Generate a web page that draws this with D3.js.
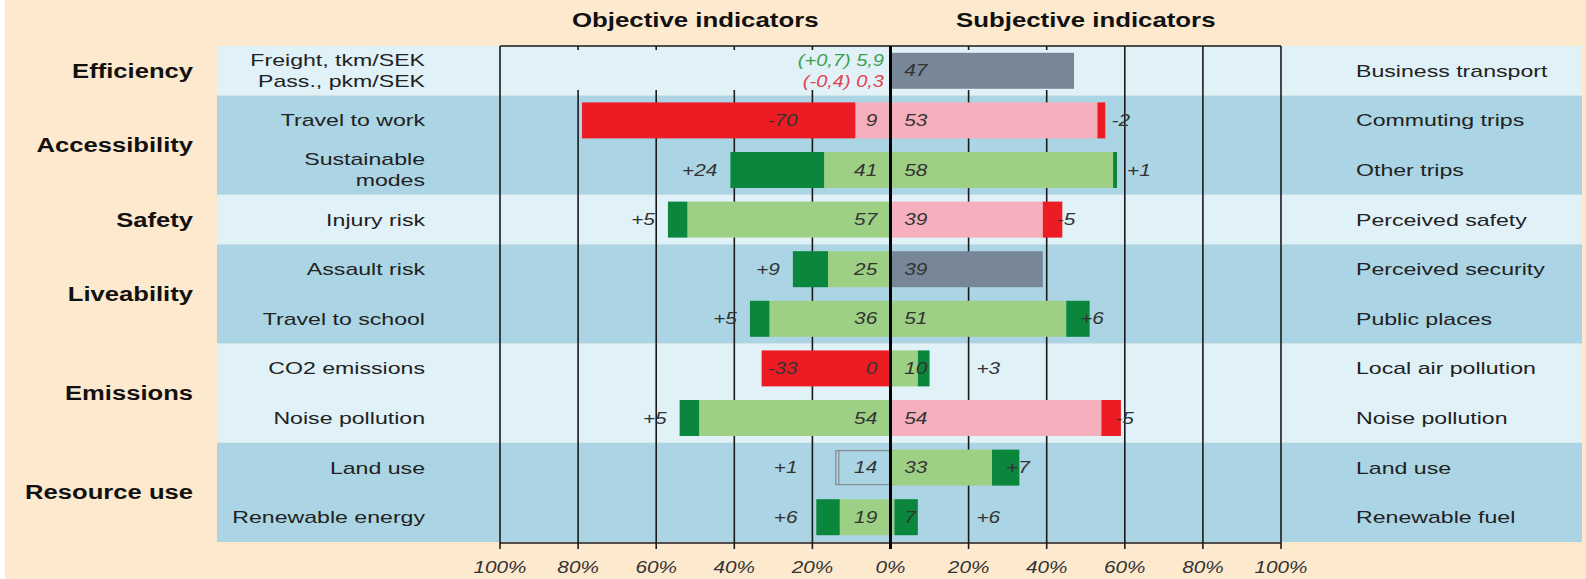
<!DOCTYPE html>
<html>
<head>
<meta charset="utf-8">
<script src="https://cdn.jsdelivr.net/npm/d3@7"></script>
<style>
  body { margin: 0; background: #fde9cd; }
  svg { display: block; }
</style>
</head>
<body>
<svg id="main"></svg>
<script>
// --- data ---
const groupNames = ['Efficiency', 'Accessibility', 'Safety', 'Liveability', 'Emissions', 'Resource use'];
const groupSizes = [1, 2, 1, 2, 2, 2];

const objLabels = ['Freight, tkm/SEK\nPass., pkm/SEK', 'Travel to work', 'Sustainable\nmodes', 'Injury risk',
  'Assault risk', 'Travel to school', 'CO2 emissions', 'Noise pollution', 'Land use', 'Renewable energy'];
const objValues  = [null, 9, 41, 57, 25, 36, 0, 54, 14, 19];
const objChanges = [null, -70, 24, 5, 9, 5, -33, 5, 1, 6];
const objOutlined = ['Land use'];
const effTexts = ['(+0,7) 5,9', '(-0,4) 0,3'];

const subjLabels = ['Business transport', 'Commuting trips', 'Other trips', 'Perceived safety',
  'Perceived security', 'Public places', 'Local air pollution', 'Noise pollution', 'Land use', 'Renewable fuel'];
const subjValues  = [47, 53, 58, 39, 39, 51, 10, 54, 33, 7];
const subjChanges = [null, -2, 1, -5, null, 6, 3, -5, 7, 6];

const tickValues = [-100, -80, -60, -40, -20, 0, 20, 40, 60, 80, 100];

main();

function main() {
  const W = 1586, H = 579;
  const col = {
    bg: '#fde9cd', light: '#e0f1f8', dark: '#abd5e4',
    lgreen: '#9dd084', dgreen: '#0b873d', pink: '#f6afbc', red: '#ed1c24', grey: '#778797',
    text: '#222'
  };

  let svg = d3.select('#main').attr('width', W).attr('height', H);
  svg.append('rect').attr('width', W).attr('height', H).attr('fill', col.bg);
  svg.append('rect').attr('width', 5).attr('height', H).attr('fill', '#fff');

  let x = d3.scaleLinear().domain([-100, 100]).range([500, 1281]);
  let y = d3.scaleBand().domain(d3.range(objLabels.length)).range([46, 542]);
  const barH = 36;

  function txt(g, px, py, str, o) {
    return g.append('text')
      .attr('transform', `translate(${px},${py}) scale(${o.sx || 1.3},1)`)
      .attr('text-anchor', o.anchor || 'start')
      .attr('dy', '0.35em')
      .style('font-family', '"Liberation Sans", Arial, sans-serif')
      .style('font-size', (o.size || 17) + 'px')
      .style('font-weight', o.bold ? 'bold' : 'normal')
      .style('font-style', o.italic ? 'italic' : 'normal')
      .attr('fill', o.fill || col.text)
      .text(str);
  }

  // bands
  let starts = [];
  let acc = 0;
  groupSizes.forEach(n => { starts.push(acc); acc += n; });
  let bands = svg.append('g');
  groupSizes.forEach((n, i) => {
    let y0 = y(starts[i]), y1 = y(starts[i] + n - 1) + y.bandwidth();
    bands.append('rect')
      .attr('x', 217).attr('y', y0).attr('width', 1582 - 217).attr('height', y1 - y0)
      .attr('fill', i % 2 ? col.dark : col.light);
    txt(svg, 193, (y0 + y1) / 2, groupNames[i], {anchor: 'end', bold: true, size: 20, sx: 1.28, fill: '#111'});
  });

  // grid
  let grid = svg.append('g');
  grid.selectAll('line.g').data(tickValues.filter(d => d !== 0)).enter().append('line')
    .attr('x1', d => x(d)).attr('x2', d => x(d)).attr('y1', 46).attr('y2', 549)
    .attr('stroke', '#1a1a1a').attr('stroke-width', 1.6);
  grid.append('line').attr('x1', x(-100)).attr('x2', x(100)).attr('y1', 46).attr('y2', 46)
    .attr('stroke', '#1a1a1a').attr('stroke-width', 1.6);
  grid.append('line').attr('x1', x(-100)).attr('x2', x(100)).attr('y1', 543).attr('y2', 543)
    .attr('stroke', '#1a1a1a').attr('stroke-width', 1.6);

  // cover in the efficiency row
  svg.append('rect').attr('x', x(-100) + 2).attr('y', 50).attr('width', x(52) - x(-100) - 2).attr('height', 40)
    .attr('fill', col.light);

  let bars = svg.append('g');

  function segs(v, c) {
    if (c === null) return [{a: 0, b: v, fill: col.grey}];
    let old = v - c;
    if (c >= 0) return [{a: 0, b: old, fill: col.lgreen}, {a: old, b: v, fill: col.dgreen}];
    return [{a: 0, b: v, fill: col.pink}, {a: v, b: old, fill: col.red}];
  }

  // objective side (drawn to the left)
  objValues.forEach((v, i) => {
    if (v === null) return;
    let c = objChanges[i];
    let cy = y(i) + y.bandwidth() / 2;
    if (objOutlined.includes(objLabels[i])) {
      bars.append('rect').attr('x', x(-v)).attr('y', cy - barH / 2 + 1)
        .attr('width', x(0) - x(-v)).attr('height', barH - 2)
        .attr('fill', 'none').attr('stroke', '#8a8f94').attr('stroke-width', 1.3);
      bars.append('line').attr('x1', x(-v) + 3).attr('x2', x(-v) + 3)
        .attr('y1', cy - barH / 2 + 1).attr('y2', cy + barH / 2 - 1)
        .attr('stroke', '#8a8f94').attr('stroke-width', 1.3);
    } else {
      segs(v, c).forEach(s => {
        bars.append('rect').attr('x', x(-s.b)).attr('y', cy - barH / 2)
          .attr('width', x(-s.a) - x(-s.b)).attr('height', barH).attr('fill', s.fill);
      });
    }
    txt(svg, x(-3.4), cy, String(v), {anchor: 'end', italic: true, size: 16, sx: 1.3, fill: '#333'});
    let outer = Math.max(v, v - c);
    let lx = c < 0 ? x(-23.8) : Math.min(x(-outer) - 13, x(-23.8));
    txt(svg, lx, cy, (c > 0 ? '+' : '-') + Math.abs(c), {anchor: 'end', italic: true, size: 16, sx: 1.3, fill: '#333'});
  });

  // subjective side
  subjValues.forEach((v, i) => {
    let c = subjChanges[i];
    let cy = y(i) + y.bandwidth() / 2;
    segs(v, c).forEach(s => {
      bars.append('rect').attr('x', x(s.a)).attr('y', cy - barH / 2)
        .attr('width', x(s.b) - x(s.a)).attr('height', barH).attr('fill', s.fill);
    });
    txt(svg, x(3.5), cy, String(v), {italic: true, size: 16, sx: 1.3, fill: '#333'});
    if (c !== null) {
      let inner = c < 0 ? v : v - c;
      let lx = Math.max(x(inner) + 14, x(22));
      txt(svg, lx, cy, (c > 0 ? '+' : '-') + Math.abs(c), {italic: true, size: 16, sx: 1.3, fill: '#333'});
    }
  });

  // zero line
  svg.append('line').attr('x1', x(0)).attr('x2', x(0)).attr('y1', 46).attr('y2', 549)
    .attr('stroke', '#000').attr('stroke-width', 3);

  // efficiency figures
  let ey = y(0) + y.bandwidth() / 2;
  txt(svg, 884, ey - 10.5, effTexts[0], {anchor: 'end', italic: true, size: 16, sx: 1.25, fill: '#3f9f4c'});
  txt(svg, 884, ey + 10.5, effTexts[1], {anchor: 'end', italic: true, size: 16, sx: 1.25, fill: '#e5404c'});

  // row labels
  objLabels.forEach((l, i) => {
    let cy = y(i) + y.bandwidth() / 2;
    let lines = l.split('\n');
    lines.forEach((ln, k) => {
      let off = lines.length > 1 ? (k === 0 ? -10.5 : 10.5) : 0;
      txt(svg, 425, cy + off, ln, {anchor: 'end', size: 17, sx: 1.36});
    });
  });
  subjLabels.forEach((l, i) => {
    txt(svg, 1356, y(i) + y.bandwidth() / 2, l, {size: 17, sx: 1.36});
  });

  // titles
  txt(svg, (x(-100) + x(0)) / 2, 20, 'Objective indicators', {anchor: 'middle', bold: true, size: 20, sx: 1.29, fill: '#111'});
  txt(svg, (x(0) + x(100)) / 2, 20, 'Subjective indicators', {anchor: 'middle', bold: true, size: 20, sx: 1.29, fill: '#111'});

  // axis labels
  tickValues.forEach(t => {
    txt(svg, x(t), 567, Math.abs(t) + '%', {anchor: 'middle', italic: true, size: 17, sx: 1.22, fill: '#333'});
  });
}
</script>
</body>
</html>
